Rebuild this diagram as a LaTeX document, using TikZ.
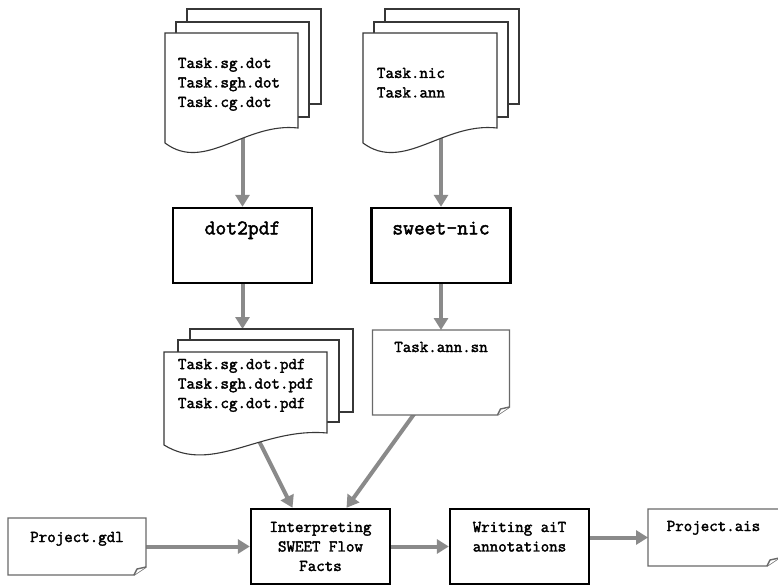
\documentclass[tikz,border=0pt]{standalone}
\usepackage{fontspec}
\setmonofont{Latin Modern Mono}[AutoFakeBold=2.2]
\usetikzlibrary{arrows.meta,calc}

\definecolor{flowgray}{RGB}{138,138,138}
\definecolor{pageline}{RGB}{55,55,55}
\definecolor{noteline}{RGB}{105,105,105}

\newcommand\filefont{\ttfamily\bfseries\fontsize{16.5}{19.5}\selectfont}
\newcommand\toolfont{\ttfamily\bfseries\fontsize{21}{24}\selectfont}

\pgfdeclarelayer{arrowlayer}
\pgfdeclarelayer{sheetlayer}
\pgfsetlayers{arrowlayer,sheetlayer,main}

% front sheet of a stack: flat top, wavy bottom edge rising to the right
\newcommand\wavysheet[2]{%
  \draw[page] (#1.north west) -- (#1.north east) -- ([yshift=#2pt]#1.south east)
    .. controls ($(#1.south west)!0.6!(#1.south east)+(0,{-#2-6})$)
       and ($(#1.south west)!0.3!(#1.south east)+(0,30)$) .. (#1.south west) -- cycle;}

% single file with a turned-up lower right corner
\newcommand\notesheet[1]{%
  \draw[note] (#1.north west) -- (#1.north east) -- ([yshift=8pt]#1.south east)
    -- ([xshift=-12pt]#1.south east) -- (#1.south west) -- cycle;
  \draw[note, line join=round] ([xshift=-12pt]#1.south east)
    -- ([xshift=-9pt,yshift=6pt]#1.south east) -- ([yshift=8pt]#1.south east);}

\begin{document}
\begin{tikzpicture}[x=1pt,y=-1pt,
  flow/.style={draw=flowgray, line width=4pt, -{Triangle[length=12pt,width=14pt]}},
  page/.style={draw=pageline, line width=1.1pt, fill=white, line join=miter},
  note/.style={draw=noteline, line width=1.4pt, fill=white},
  procbox/.style={draw=black, line width=2.4pt, fill=white, inner sep=0pt,
    minimum width=139pt, minimum height=75pt},
  docnode/.style={inner sep=0pt, outer sep=0pt, font=\filefont}]

\useasboundingbox (0,0) rectangle (778,585);

% processing steps
\node[procbox, font=\toolfont, text height=26.4pt, text depth=48.6pt]
  (dot2pdf) at (242.5,245.5) {dot2pdf};
\node[procbox, font=\toolfont, text height=26.4pt, text depth=48.6pt]
  (sweetnic) at (441,245.5) {sweet-nic};
\node[procbox, font=\filefont, align=center]
  (interp) at (320.5,546.5) {Interpreting\\SWEET Flow\\Facts};
\node[procbox, font=\filefont]
  (writing) at (519.5,546.5)
  {\parbox[c][75pt][t]{139pt}{\centering\vspace*{12.9pt}Writing aiT\\annotations}};

% file stacks (front sheets)
\node[docnode] (dots) at (231.5,88)
  {\parbox[c][110pt][t]{133pt}{\leftskip=13pt\vspace*{24.9pt}Task.sg.dot\\Task.sgh.dot\\Task.cg.dot}};
\node[docnode] (nics) at (430,88)
  {\parbox[c][110pt][t]{134pt}{\leftskip=14pt\vspace*{34.9pt}Task.nic\\Task.ann}};
\node[docnode] (pdfs) at (245.5,398.5)
  {\parbox[c][93pt][t]{163pt}{\leftskip=14pt\vspace*{6.9pt}Task.sg.dot.pdf\\Task.sgh.dot.pdf\\Task.cg.dot.pdf}};

% single files
\node[docnode, minimum width=137pt, minimum height=85pt, text height=22pt, text depth=63pt]
  (annsn) at (441,372.5) {Task.ann.sn};
\node[docnode, minimum width=138pt, minimum height=57pt, text height=24pt, text depth=33pt]
  (gdl) at (77,546.5) {Project.gdl};
\node[docnode, minimum width=131pt, minimum height=57pt, text height=22pt, text depth=35pt]
  (ais) at (713.5,537.5) {Project.ais};

\begin{pgfonlayer}{sheetlayer}
  % back sheets
  \draw[page] (187,9) rectangle (321,104);
  \draw[page] (176,22) rectangle (309,117);
  \draw[page] (385,9) rectangle (519,104);
  \draw[page] (374,22) rectangle (508,117);
  \draw[page] (190,329) rectangle (353,412);
  \draw[page] (178,340) rectangle (339,422);
  % front sheets
  \wavysheet{dots}{15}
  \wavysheet{nics}{15}
  \wavysheet{pdfs}{12}
  \notesheet{annsn}
  \notesheet{gdl}
  \notesheet{ais}
\end{pgfonlayer}

\begin{pgfonlayer}{arrowlayer}
  \fill[white] (0,0) rectangle (778,585);
  \coordinate (dotsout) at (242.5,132);
  \coordinate (nicsout) at (441,132);
  \coordinate (pdfsin) at (242.5,329);
  \coordinate (pdfsout) at (257.5,438);
  \draw[flow] (dotsout) -- (dot2pdf.north);
  \draw[flow] (nicsout) -- (sweetnic.north);
  \draw[flow] (dot2pdf.south) -- (pdfsin);
  \draw[flow] (sweetnic.south) -- (annsn.north);
  \draw[flow] (pdfsout) -- ([xshift=-28pt]interp.north);
  \draw[flow] ([xshift=-24pt,yshift=5pt]annsn.south) -- ([xshift=26pt]interp.north);
  \draw[flow] (gdl.east) -- (interp.west);
  \draw[flow] (interp.east) -- (writing.west);
  \draw[flow] (writing.east |- ais.west) -- (ais.west);
\end{pgfonlayer}
\end{tikzpicture}
\end{document}
